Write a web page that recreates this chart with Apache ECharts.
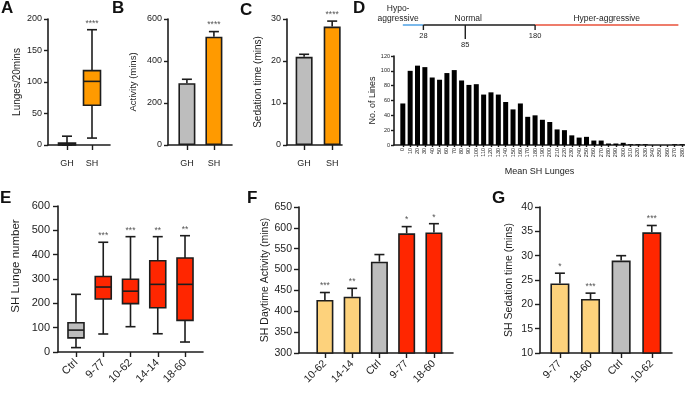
<!DOCTYPE html>
<html>
<head>
<meta charset="utf-8">
<script src="https://cdn.jsdelivr.net/npm/echarts@6/dist/echarts.min.js"></script>
<style>
  html, body { margin: 0; padding: 0; background: #fff; }
  #main { width: 685px; height: 393px; }
</style>
</head>
<body>
<div id="main"></div>
<script>
// ---- data ----
// A: lunges in 20 mins, box = [min, q1, median, q3, max]
const aCats = ['GH', 'SH'];
const aBoxes = [[0, 0, 1, 3, 14], [11, 63, 101, 118, 183]];
const aStars = ['', '****'];
// B: activity (mins)
const bCats = ['GH', 'SH'];
const bMeans = [294, 516];
const bErrTop = [313, 540];
const bStars = ['', '****'];
// C: sedation time (mins)
const cCats = ['GH', 'SH'];
const cMeans = [21.0, 28.2];
const cErrTop = [21.6, 29.5];
const cStars = ['', '****'];
// D: histogram of mean SH lunges
const dBins = [0, 10, 20, 30, 40, 50, 60, 70, 80, 90, 100, 110, 120, 130, 140, 150, 160, 170, 180, 190,
  200, 210, 220, 230, 240, 250, 260, 270, 280, 290, 300, 310, 320, 330, 340, 350, 360, 370, 380];
const dCounts = [56, 100, 107, 105, 91, 88, 97, 101, 87, 81, 82, 68, 71, 68, 58, 48, 56, 38, 40, 34,
  31, 21, 20, 13, 10, 11, 6, 6, 2, 2, 3, 1, 1, 1, 0, 0, 0, 1, 1];
const dRangeNames = ['Hypo-\naggressive', 'Normal', 'Hyper-aggressive'];
const dRangeEdges = [0, 28, 180, 375];
const dMarks = [28, 85, 180];
// E: SH lunge number per line
const eCats = ['Ctrl', '9-77', '10-62', '14-14', '18-60'];
const eBoxes = [[18, 58, 90, 120, 237], [74, 218, 267, 310, 451], [104, 199, 250, 299, 474],
  [75, 182, 278, 375, 474], [41, 130, 278, 386, 478]];
const eStars = ['', '***', '***', '**', '**'];
const eGroups = ['ctrl', 'hi', 'hi', 'hi', 'hi'];
// F: SH daytime activity
const fCats = ['10-62', '14-14', 'Ctrl', '9-77', '18-60'];
const fMeans = [427, 435, 519, 587, 589];
const fErrTop = [445, 455, 536, 603, 610];
const fStars = ['***', '**', '', '*', '*'];
const fGroups = ['lo', 'lo', 'ctrl', 'hi', 'hi'];
// G: SH sedation time
const gCats = ['9-77', '18-60', 'Ctrl', '10-62'];
const gMeans = [24.3, 21.1, 29.0, 34.8];
const gErrTop = [26.4, 22.3, 30.0, 36.2];
const gStars = ['*', '***', '', '***'];
const gGroups = ['lo', 'lo', 'ctrl', 'hi'];

// ---- style ----
const FONT = "'Liberation Sans', Arial, sans-serif";
const INK = '#1d1d1d';
const STAR = '#555';
const FILL = { ctrl: '#bdbdbd', orange: '#ff9a00', hi: '#ff2600', lo: '#fdd27c' };
const RANGE_COLORS = ['#5aa7e6', '#1d1d1d', '#e8503a'];
const RANGE_SHIFT = [-15, -11, 0];
const MARK_LEN = [5, 14, 5];

const idx = arr => arr.map((c, i) => i);

function yAx(gi, min, max, interval, name, o) {
  return {
    gridIndex: gi, type: 'value', min: min, max: max, interval: interval,
    name: name, nameLocation: 'middle', nameRotate: 90, nameGap: o.gap,
    nameTextStyle: { fontFamily: FONT, fontSize: o.nameSize, color: INK, padding: o.namePad || 0 },
    axisLine: { show: true, onZero: false, lineStyle: { color: INK, width: 1.6 } },
    axisTick: { show: true, length: o.tick, lineStyle: { color: INK, width: 1.4 } },
    axisLabel: { fontFamily: FONT, fontSize: o.size, color: INK, margin: o.margin },
    splitLine: { show: false }
  };
}

function xAx(gi, labels, values, min, max, o) {
  return {
    gridIndex: gi, type: 'value', min: min, max: max,
    name: o.name || '', nameLocation: 'middle', nameGap: o.nameGap || 0,
    nameTextStyle: { fontFamily: FONT, fontSize: o.nameSize || 9, color: INK },
    axisLine: { show: true, onZero: false, lineStyle: { color: INK, width: 1.6 } },
    axisTick: { show: true, length: o.tick, customValues: values, lineStyle: { color: INK, width: 1.4 } },
    axisLabel: {
      customValues: values, formatter: v => String(labels[values.indexOf(v)]),
      rotate: o.rotate || 0, margin: o.margin, fontFamily: FONT, fontSize: o.size, color: INK
    },
    splitLine: { show: false }
  };
}

function seg(x1, y1, x2, y2, color, w) {
  return { type: 'line', shape: { x1: x1, y1: y1, x2: x2, y2: y2 }, style: { stroke: color || INK, lineWidth: w || 1.6 } };
}

function starText(text, x, y, size) {
  return { type: 'text', style: { text: text, x: x, y: y, align: 'center', verticalAlign: 'bottom',
    fontFamily: FONT, fontSize: size, fill: STAR } };
}

function boxSeries(gi, boxes, colors, stars, w) {
  return {
    type: 'custom', xAxisIndex: gi, yAxisIndex: gi, z: 3,
    data: boxes.map((b, i) => [i].concat(b)),
    renderItem: function (params, api) {
      const i = api.value(0);
      const p = [1, 2, 3, 4, 5].map(k => api.coord([i, api.value(k)]));
      const x = p[0][0], hw = w / 2, cw = 5;
      return { type: 'group', children: [
        seg(x, p[0][1], x, p[1][1]),
        seg(x, p[3][1], x, p[4][1]),
        seg(x - cw, p[0][1], x + cw, p[0][1]),
        seg(x - cw, p[4][1], x + cw, p[4][1]),
        { type: 'rect', shape: { x: x - hw, y: p[3][1], width: w, height: Math.max(p[1][1] - p[3][1], 1) },
          style: { fill: colors[i], stroke: INK, lineWidth: 1.6 } },
        seg(x - hw, p[2][1], x + hw, p[2][1]),
        starText(stars[i], x, p[4][1] - 2, 8.5)
      ] };
    }
  };
}

function barSeries(gi, means, colors, w) {
  return {
    type: 'bar', xAxisIndex: gi, yAxisIndex: gi, barWidth: w,
    data: means.map((v, i) => ({ value: [i, v], itemStyle: { color: colors[i] } })),
    itemStyle: { borderColor: INK, borderWidth: 1.6 }
  };
}

function errSeries(gi, means, tops, stars, cap) {
  return {
    type: 'custom', xAxisIndex: gi, yAxisIndex: gi, z: 4,
    data: means.map((v, i) => [i, v, tops[i]]),
    renderItem: function (params, api) {
      const i = api.value(0);
      const a = api.coord([i, api.value(1)]);
      const b = api.coord([i, api.value(2)]);
      return { type: 'group', children: [
        seg(a[0], a[1], b[0], b[1]),
        seg(b[0] - cap, b[1], b[0] + cap, b[1]),
        starText(stars[params.dataIndex], b[0], b[1] - 2, 8.5)
      ] };
    }
  };
}

const colorsOf = groups => groups.map(g => FILL[g]);

const option = {
  animation: false,
  backgroundColor: '#fff',
  textStyle: { fontFamily: FONT },
  grid: [
    { left: 48, top: 19, width: 62, height: 126 },   // A
    { left: 168, top: 19, width: 64, height: 126 },  // B
    { left: 287, top: 19, width: 55, height: 126 },  // C
    { left: 394, top: 25, width: 291, height: 23 },  // D annotation
    { left: 394, top: 56, width: 291, height: 89 },  // D histogram
    { left: 58, top: 206, width: 145, height: 146 }, // E
    { left: 299, top: 207, width: 154, height: 146 },// F
    { left: 540, top: 207, width: 132, height: 146 } // G
  ],
  xAxis: [
    xAx(0, aCats, idx(aCats), -0.76, 1.72, { tick: 5, margin: 14, size: 9 }),
    xAx(1, bCats, idx(bCats), -0.70, 1.67, { tick: 5, margin: 14, size: 9 }),
    xAx(2, cCats, idx(cCats), -0.61, 1.35, { tick: 5, margin: 14, size: 9 }),
    { gridIndex: 3, type: 'value', min: -12, max: 384, show: false },
    xAx(4, dBins, dBins, -12, 384, { tick: 2, margin: 3, size: 5.5, rotate: 90,
      name: 'Mean SH Lunges', nameGap: 22, nameSize: 9 }),
    xAx(5, eCats, idx(eCats), -0.66, 4.66, { tick: 5, margin: 9, size: 11, rotate: 45 }),
    xAx(6, fCats, idx(fCats), -0.95, 4.70, { tick: 5, margin: 9, size: 10.5, rotate: 45 }),
    xAx(7, gCats, idx(gCats), -0.65, 3.66, { tick: 5, margin: 9, size: 10.5, rotate: 45 })
  ],
  yAxis: [
    yAx(0, 0, 200, 50, 'Lunges/20mins', { gap: 26, nameSize: 10, tick: 4, margin: 6, size: 9 }),
    yAx(1, 0, 600, 200, 'Activity (mins)', { gap: 30, nameSize: 9.5, tick: 4, margin: 6, size: 9 }),
    yAx(2, 0, 30, 10, 'Sedation time (mins)', { gap: 24, nameSize: 10, tick: 4, margin: 6, size: 9 }),
    { gridIndex: 3, type: 'value', min: -10, max: 0, show: false },
    yAx(4, 0, 120, 20, 'No. of Lines', { gap: 16, nameSize: 9, tick: 3, margin: 4, size: 5.5 }),
    yAx(5, 0, 600, 100, 'SH Lunge number', { gap: 36, nameSize: 11.5, tick: 5, margin: 8, size: 11, namePad: [0, 0, 0, 26] }),
    yAx(6, 300, 650, 50, 'SH Daytime Activity (mins)', { gap: 28, nameSize: 10.5, tick: 5, margin: 7, size: 10.5 }),
    yAx(7, 10, 40, 5, 'SH Sedation time (mins)', { gap: 25, nameSize: 10.5, tick: 5, margin: 7, size: 10.5 })
  ],
  series: [
    boxSeries(0, aBoxes, [FILL.ctrl, FILL.orange], aStars, 17),
    barSeries(1, bMeans, [FILL.ctrl, FILL.orange], 17),
    errSeries(1, bMeans, bErrTop, bStars, 5),
    barSeries(2, cMeans, [FILL.ctrl, FILL.orange], 17),
    errSeries(2, cMeans, cErrTop, cStars, 5),
    {
      type: 'custom', xAxisIndex: 3, yAxisIndex: 3,
      data: dRangeNames.map((n, i) => [dRangeEdges[i], dRangeEdges[i + 1]]),
      renderItem: function (params, api) {
        const i = params.dataIndex;
        const a = api.coord([api.value(0), 0]);
        const b = api.coord([api.value(1), 0]);
        return { type: 'group', children: [
          seg(a[0], a[1], b[0], b[1], RANGE_COLORS[i], 1.6),
          { type: 'text', style: { text: dRangeNames[i], x: (a[0] + b[0]) / 2 + RANGE_SHIFT[i], y: a[1] - 2,
            align: 'center', verticalAlign: 'bottom', lineHeight: 9.5,
            fontFamily: FONT, fontSize: 8.5, fill: INK } }
        ] };
      }
    },
    {
      type: 'custom', xAxisIndex: 3, yAxisIndex: 3,
      data: dMarks.map(v => [v, 0]),
      renderItem: function (params, api) {
        const i = params.dataIndex;
        const p = api.coord([api.value(0), 0]);
        const len = MARK_LEN[i];
        return { type: 'group', children: [
          seg(p[0], p[1], p[0], p[1] + len, INK, 1.4),
          { type: 'text', style: { text: String(dMarks[i]), x: p[0], y: p[1] + len + 2,
            align: 'center', verticalAlign: 'top', fontFamily: FONT, fontSize: 7.5, fill: INK } }
        ] };
      }
    },
    {
      type: 'bar', xAxisIndex: 4, yAxisIndex: 4, barWidth: 5,
      data: dBins.map((b, i) => [b, dCounts[i]]),
      itemStyle: { color: '#000' }
    },
    boxSeries(5, eBoxes, colorsOf(eGroups), eStars, 16),
    barSeries(6, fMeans, colorsOf(fGroups), 17),
    errSeries(6, fMeans, fErrTop, fStars, 5),
    barSeries(7, gMeans, colorsOf(gGroups), 19),
    errSeries(7, gMeans, gErrTop, gStars, 5)
  ],
  graphic: [
    ['A', 1, 0], ['B', 112, 0], ['C', 240, 2], ['D', 353, 0],
    ['E', 0, 190], ['F', 247, 190], ['G', 492, 190]
  ].map(t => ({
    type: 'text', left: t[1], top: t[2],
    style: { text: t[0], fontFamily: FONT, fontSize: 17, fontWeight: 'bold', fill: '#111' }
  }))
};

const chart = echarts.init(document.getElementById('main'));
chart.setOption(option);
</script>
</body>
</html>
